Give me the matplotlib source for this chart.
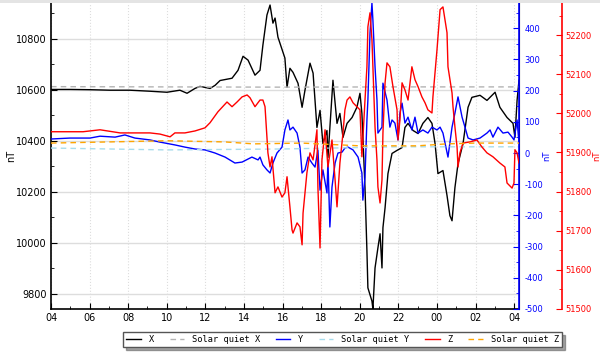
import matplotlib
matplotlib.use("Agg")
import matplotlib.pyplot as plt
from matplotlib.ticker import MultipleLocator, FuncFormatter
from matplotlib.patches import Rectangle

plt.rcParams['axes.unicode_minus'] = False

# hours since midnight of the first day (values > 24 are the next morning)
x_hours = [4.00, 4.98, 6.02, 7.06, 8.09, 9.13, 10.01, 10.68, 11.05, 11.46,
           11.72, 12.24, 12.50, 12.76, 13.38, 13.69, 13.95, 14.21, 14.57, 14.83,
           14.98, 15.19, 15.35, 15.50, 15.61, 15.76, 16.12, 16.23, 16.38, 16.54,
           16.80, 17.01, 17.16, 17.42, 17.58, 17.78, 17.94, 18.09, 18.30, 18.35,
           18.61, 18.82, 18.97, 19.13, 19.34, 19.60, 19.85, 20.01, 20.11, 20.27,
           20.37, 20.42, 20.63, 20.68, 20.79, 20.94, 21.05, 21.15, 21.20, 21.31,
           21.46, 21.67, 21.93, 22.19, 22.34, 22.50, 22.76, 23.02, 23.27, 23.53,
           23.74, 23.90, 24.05, 24.31, 24.52, 24.67, 24.78, 24.93, 25.09, 25.35,
           25.61, 25.81, 26.23, 26.59, 27.01, 27.26, 27.63, 27.94, 28.04, 28.15,
           28.25]
x_values = [10601, 10601, 10600, 10598, 10598, 10594, 10590, 10598, 10586, 10605,
            10613, 10605, 10617, 10636, 10645, 10676, 10731, 10716, 10657, 10676,
            10775, 10893, 10932, 10861, 10881, 10806, 10724, 10609, 10684, 10668,
            10625, 10531, 10598, 10704, 10665, 10452, 10519, 10389, 10440, 10334,
            10637, 10468, 10507, 10413, 10468, 10491, 10531, 10586, 10507, 10216,
            9968, 9823, 9771, 9740, 9901, 9980, 10035, 9901, 10059, 10137,
            10271, 10350, 10362, 10373, 10452, 10468, 10440, 10428, 10468, 10491,
            10468, 10389, 10271, 10283, 10185, 10106, 10086, 10216, 10310, 10389,
            10531, 10570, 10578, 10558, 10590, 10531, 10491, 10468, 10413, 10558,
            10637]

y_hours = [4.00, 4.98, 6.02, 6.54, 7.32, 7.83, 8.35, 9.13, 9.65, 9.91,
           10.42, 10.94, 11.46, 11.98, 12.50, 13.02, 13.53, 13.90, 14.41, 14.73,
           14.83, 14.98, 15.19, 15.35, 15.50, 15.71, 15.97, 16.12, 16.28, 16.38,
           16.54, 16.75, 16.90, 17.01, 17.16, 17.32, 17.52, 17.68, 17.83, 17.94,
           18.09, 18.30, 18.35, 18.45, 18.56, 18.72, 18.87, 19.08, 19.23, 19.39,
           19.65, 19.91, 20.11, 20.16, 20.27, 20.37, 20.42, 20.53, 20.63, 20.68,
           20.79, 20.89, 20.94, 21.15, 21.20, 21.41, 21.56, 21.67, 21.82, 21.98,
           22.08, 22.19, 22.34, 22.50, 22.70, 22.86, 23.02, 23.27, 23.53, 23.74,
           24.00, 24.16, 24.31, 24.57, 24.78, 24.93, 25.09, 25.30, 25.45, 25.61,
           25.87, 26.23, 26.59, 26.75, 26.90, 27.16, 27.42, 27.68, 27.89, 27.99,
           28.15, 28.25]
y_values = [45, 48, 48, 54, 51, 58, 48, 42, 35, 32,
            26, 19, 13, 10, 0, -13, -32, -29, -13, -22,
            -13, -38, -54, -64, -32, 0, 19, 74, 106, 74,
            83, 64, 19, -64, -54, -13, -32, -45, 10, -119,
            -54, -128, -22, -237, -109, -32, 0, 3, 16, 19,
            10, -13, -64, -151, -77, 106, 170, 385, 481, 426,
            276, 170, 64, 83, 224, 170, 83, 106, 96, 42,
            128, 160, 96, 115, 74, 115, 64, 74, 64, 83,
            74, 83, 64, -13, 83, 128, 180, 115, 83, 48,
            42, 48, 64, 74, 51, 83, 64, 67, 51, 42,
            106, 32]

z_hours = [4.00, 5.66, 6.54, 7.58, 9.13, 9.65, 10.17, 10.42, 10.94, 11.46,
           11.98, 12.24, 12.65, 13.12, 13.38, 13.64, 13.90, 14.16, 14.31, 14.57,
           14.83, 14.98, 15.09, 15.24, 15.35, 15.45, 15.61, 15.76, 15.97, 16.12,
           16.23, 16.38, 16.49, 16.54, 16.75, 16.90, 17.01, 17.06, 17.26, 17.42,
           17.58, 17.78, 17.83, 17.94, 18.04, 18.20, 18.35, 18.56, 18.72, 18.82,
           18.97, 19.13, 19.23, 19.34, 19.49, 19.65, 19.85, 20.01, 20.11, 20.27,
           20.37, 20.42, 20.53, 20.63, 20.68, 20.79, 20.89, 20.94, 21.05, 21.15,
           21.20, 21.31, 21.41, 21.56, 21.72, 21.93, 21.98, 22.08, 22.19, 22.34,
           22.50, 22.70, 22.86, 23.02, 23.22, 23.38, 23.53, 23.74, 23.79, 24.00,
           24.16, 24.31, 24.52, 24.57, 24.78, 24.83, 24.93, 25.04, 25.09, 25.19,
           25.35, 25.71, 26.07, 26.33, 26.59, 26.90, 27.26, 27.52, 27.63, 27.89,
           27.99, 28.04, 28.15, 28.25]
z_values = [51953, 51953, 51958, 51950, 51950, 51947, 51940, 51950, 51950, 51955,
            51963, 51976, 52004, 52029, 52017, 52029, 52042, 52047, 52040, 52017,
            52034, 52034, 52017, 51899, 51863, 51889, 51797, 51812, 51786, 51797,
            51838, 51761, 51702, 51694, 51720, 51710, 51664, 51745, 51848, 51899,
            51881, 51958, 51812, 51656, 51881, 51958, 51863, 51932, 51830, 51761,
            51873, 51950, 52009, 52034, 52042, 52027, 52017, 52009, 51889, 52034,
            52119, 52221, 52257, 52188, 52119, 51965, 51881, 51812, 51771, 51830,
            51950, 52078, 52129, 52119, 52068, 52009, 51932, 51983, 52078, 52060,
            52034, 52119, 52086, 52068, 52042, 52027, 52009, 52001, 52042, 52162,
            52265, 52272, 52206, 52119, 52052, 52017, 51965, 51914, 51863, 51899,
            51924, 51927, 51932, 51914, 51899, 51889, 51873, 51863, 51822, 51809,
            51822, 51907, 51899, 51873]

# solar quiet curves
sq_x_hours = [4, 10, 16, 22, 28.25]
sq_x_values = [10612, 10611, 10610, 10611, 10611]
sq_y_hours = [4, 10, 16, 22, 28.25]
sq_y_values = [16, 10, 13, 20, 20]
sq_z_hours = [4, 7, 10, 13, 14.5, 17, 20, 23, 24.5, 26, 28.25]
sq_z_values = [51924, 51927, 51930, 51927, 51922, 51924, 51917, 51917, 51922, 51924, 51924]

fig = plt.figure(figsize=(6, 3.56), dpi=100)
ax = fig.add_axes([51/600, 1 - 309/356, 468/600, 306/356])
ax2 = ax.twinx()
ax3 = ax.twinx()
# 43 px to the right of the blue axis (outward is in points)
ax3.spines['right'].set_position(('outward', 43 * 72 / 100))

fs = 7
fs_r = 6
ax.plot(x_hours, x_values, color='black', lw=1, label='X')
ax.plot(sq_x_hours, sq_x_values, color='#b4b4b4', lw=1, ls=(0, (4, 3)), label='Solar quiet X')
ax2.plot(y_hours, y_values, color='blue', lw=1, label='Y')
ax2.plot(sq_y_hours, sq_y_values, color='#a8dcec', lw=1, ls=(0, (4, 3)), label='Solar quiet Y')
ax3.plot(z_hours, z_values, color='red', lw=1, label='Z')
ax3.plot(sq_z_hours, sq_z_values, color='orange', lw=1, ls=(0, (4, 3)), label='Solar quiet Z')

ax.set_xlim(4, 28.25)
ax.set_ylim(9740, 10940)
ax2.set_ylim(-500, 481)
ax3.set_ylim(51500, 52282)

ax.xaxis.set_major_locator(MultipleLocator(2))
ax.xaxis.set_minor_locator(MultipleLocator(1))
ax.xaxis.set_major_formatter(FuncFormatter(lambda v, p: '%02d' % (int(round(v)) % 24)))
ax.yaxis.set_major_locator(MultipleLocator(200))
ax.yaxis.set_minor_locator(MultipleLocator(100))
ax2.yaxis.set_major_locator(MultipleLocator(100))
ax2.yaxis.set_minor_locator(MultipleLocator(50))
ax3.yaxis.set_major_locator(MultipleLocator(100))
ax3.yaxis.set_minor_locator(MultipleLocator(50))

ax.grid(axis='y', color='#dddddd', lw=1)
ax.grid(axis='x', color='#dddddd', lw=0.8, ls=':')
ax.set_axisbelow(True)

ax.tick_params(which='both', direction='in', labelsize=fs, pad=3)
ax.tick_params(which='major', length=4)
ax.tick_params(which='minor', length=2)
ax.spines['left'].set_linewidth(1.2)
ax.spines['bottom'].set_linewidth(1.2)
ax.spines['top'].set_visible(False)

ax2.spines['right'].set_color('blue')
ax2.spines['right'].set_linewidth(1.2)
ax2.tick_params(axis='y', which='both', direction='in', colors='blue', labelsize=fs_r, pad=4)
ax2.tick_params(which='major', length=4)
ax2.tick_params(which='minor', length=2)

ax3.spines['right'].set_color('red')
ax3.spines['right'].set_linewidth(1.2)
ax3.tick_params(axis='y', which='both', direction='in', colors='red', labelsize=fs_r, pad=2.5)
ax3.tick_params(which='major', length=4)
ax3.tick_params(which='minor', length=2)
for a in (ax2, ax3):
    a.spines['top'].set_visible(False)
    a.spines['left'].set_visible(False)
    a.spines['bottom'].set_visible(False)

ax.set_ylabel('nT', fontsize=fs, labelpad=0)
# right-hand labels: anchor is the left edge of the rotated text
ax2.set_ylabel('nT', fontsize=fs_r, color='blue')
ax2.yaxis.set_label_coords((542 - 51) / 468, 0.5)
ax3.set_ylabel('nT', fontsize=fs_r, color='red')
ax3.yaxis.set_label_coords((592 - 51) / 468, 0.5)

fig.add_artist(Rectangle((0, 1 - 3/356), 1, 3/356, transform=fig.transFigure,
                         color='#e4e4e4', lw=0))

handles = []
labels = []
for a in (ax, ax2, ax3):
    h, l = a.get_legend_handles_labels()
    handles += h
    labels += l
leg = fig.legend(handles, labels, loc='center', bbox_to_anchor=(0.571, 0.045),
                 ncol=6, fancybox=False, shadow=True, edgecolor='#555555',
                 prop={'family': 'DejaVu Sans Mono', 'size': 6.2},
                 handlelength=1.7, columnspacing=1.8, handletextpad=0.9,
                 borderpad=0.35)
leg.get_frame().set_linewidth(1)

fig.savefig('out.png', dpi=100)
